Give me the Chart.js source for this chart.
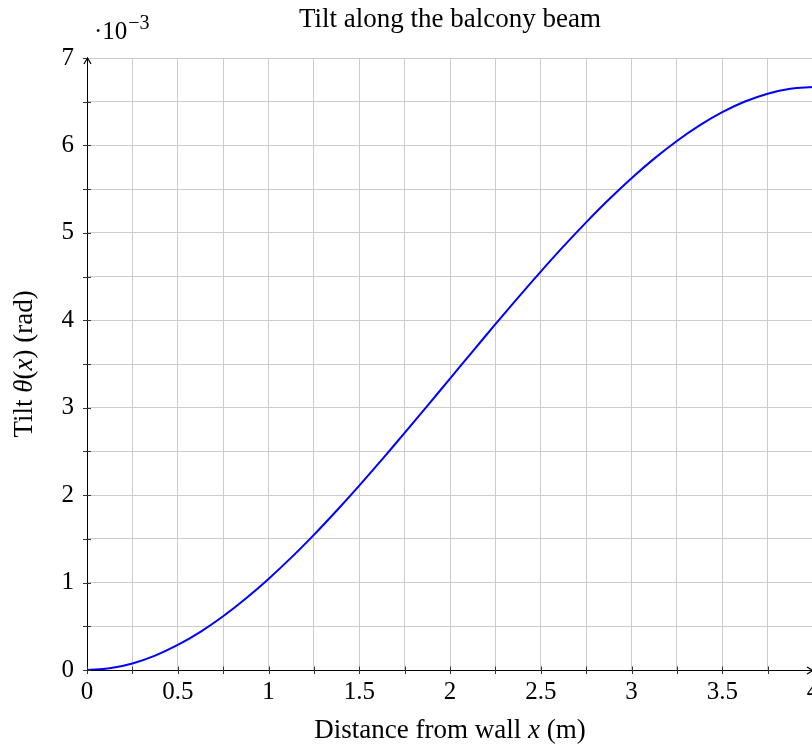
<!DOCTYPE html>
<html>
<head>
<meta charset="utf-8">
<title>Tilt along the balcony beam</title>
<script src="https://cdn.jsdelivr.net/npm/chart.js@4.4.1/dist/chart.umd.min.js"></script>
<style>
  html, body { margin: 0; padding: 0; width: 812px; height: 746px; overflow: hidden; background: #fff; }
  #wrap { width: 840px; height: 746px; }
</style>
</head>
<body>
<div id="wrap"><canvas id="chart" width="840" height="746"></canvas></div>
<script>
// values, tilt in units of 1e-3 rad
const distanceM = [0, 0.125, 0.25, 0.375, 0.5, 0.625, 0.75, 0.875, 1, 1.125, 1.25, 1.375, 1.5, 1.625, 1.75, 1.875,
  2, 2.125, 2.25, 2.375, 2.5, 2.625, 2.75, 2.875, 3, 3.125, 3.25, 3.375, 3.5, 3.625, 3.75, 3.875, 4];
const tiltMilliRad = [0, 0.019, 0.075, 0.165, 0.287, 0.437, 0.615, 0.818, 1.042, 1.285, 1.546, 1.822, 2.109, 2.407, 2.712, 3.021,
  3.333, 3.645, 3.955, 4.260, 4.557, 4.845, 5.120, 5.381, 5.625, 5.849, 6.051, 6.229, 6.380, 6.502, 6.592, 6.648, 6.667];
const xTickLabels = ['0', '0.5', '1', '1.5', '2', '2.5', '3', '3.5', '4'];
const yTickLabels = ['0', '1', '2', '3', '4', '5', '6', '7'];

const FONT = "'Liberation Serif', 'Times New Roman', serif";
const INK = '#000';

// draws the mixed upright / italic pieces of a label, centred on (0,0)
function drawPieces(ctx, pieces, size) {
  let total = 0;
  pieces.forEach(p => {
    ctx.font = (p.italic ? 'italic ' : '') + size + 'px ' + FONT;
    p.w = ctx.measureText(p.text).width;
    total += p.w;
  });
  let x = -total / 2;
  pieces.forEach(p => {
    ctx.font = (p.italic ? 'italic ' : '') + size + 'px ' + FONT;
    ctx.fillText(p.text, x, 0);
    x += p.w;
  });
}

const axisDecor = {
  id: 'axisDecor',
  beforeDatasetsDraw(chart) {
    const ctx = chart.ctx;
    const area = chart.chartArea;
    const xs = chart.scales.x, ys = chart.scales.y;
    ctx.save();
    ctx.strokeStyle = INK;
    ctx.lineWidth = 1;
    // axis lines
    ctx.beginPath();
    ctx.moveTo(area.left + 0.5, area.bottom);
    ctx.lineTo(area.left + 0.5, area.top);
    ctx.moveTo(area.left, area.bottom + 0.5);
    ctx.lineTo(area.right, area.bottom + 0.5);
    ctx.stroke();
    // arrow heads
    ctx.lineWidth = 1.2;
    ctx.beginPath();
    ctx.moveTo(area.left + 0.5 - 3.5, area.top + 6);
    ctx.lineTo(area.left + 0.5, area.top);
    ctx.lineTo(area.left + 0.5 + 3.5, area.top + 6);
    ctx.moveTo(area.right - 6, area.bottom + 0.5 - 3.5);
    ctx.lineTo(area.right, area.bottom + 0.5);
    ctx.lineTo(area.right - 6, area.bottom + 0.5 + 3.5);
    ctx.stroke();
    // tick marks
    ctx.strokeStyle = '#333';
    ctx.lineWidth = 1;
    ctx.beginPath();
    xs.ticks.forEach(t => {
      const px = Math.round(xs.getPixelForValue(t.value)) + 0.5;
      ctx.moveTo(px, area.bottom - 3.5);
      ctx.lineTo(px, area.bottom + 4);
    });
    ys.ticks.forEach(t => {
      if (t.value >= ys.max) return;
      const py = Math.round(ys.getPixelForValue(t.value)) + 0.5;
      ctx.moveTo(area.left - 4, py);
      ctx.lineTo(area.left + 4, py);
    });
    ctx.moveTo(area.left - 4, area.top + 0.5);
    ctx.lineTo(area.left, area.top + 0.5);
    ctx.stroke();
    ctx.restore();
  },
  afterDraw(chart) {
    const ctx = chart.ctx;
    const area = chart.chartArea;
    ctx.save();
    ctx.fillStyle = INK;
    ctx.textBaseline = 'middle';
    ctx.textAlign = 'left';
    // exponent marker
    ctx.font = '25px ' + FONT;
    ctx.fillText('\u00b710', area.left + 7, 32);
    const w = ctx.measureText('\u00b710').width;
    ctx.font = '20px ' + FONT;
    ctx.fillText('\u22123', area.left + 7 + w + 1, 24);
    // x axis title
    ctx.save();
    ctx.translate((area.left + area.right) / 2, 731);
    drawPieces(ctx, [
      { text: 'Distance from wall ' },
      { text: 'x', italic: true },
      { text: ' (m)' }
    ], 27);
    ctx.restore();
    // y axis title
    ctx.save();
    ctx.translate(25, (area.top + area.bottom) / 2);
    ctx.rotate(-Math.PI / 2);
    drawPieces(ctx, [
      { text: 'Tilt ' },
      { text: '\u03b8', italic: true },
      { text: '(' },
      { text: 'x', italic: true },
      { text: ') (rad)' }
    ], 27);
    ctx.restore();
    ctx.restore();
  }
};

new Chart(document.getElementById('chart'), {
  type: 'line',
  data: {
    datasets: [{
      data: distanceM.map((x, i) => ({ x: x, y: tiltMilliRad[i] })),
      borderColor: 'rgb(0,0,255)',
      borderWidth: 2,
      pointRadius: 0,
      fill: false,
      tension: 0.4
    }]
  },
  options: {
    responsive: false,
    animation: false,
    layout: { padding: { left: 0, right: 27, top: 0, bottom: 0 } },
    plugins: {
      legend: { display: false },
      tooltip: { enabled: false },
      title: {
        display: true,
        fullSize: false,
        text: 'Tilt along the balcony beam',
        color: INK,
        font: { family: FONT, size: 27, weight: 'normal', lineHeight: 1.1 },
        padding: { top: 5, bottom: 23.3 }
      }
    },
    scales: {
      x: {
        type: 'linear',
        min: 0,
        max: 4,
        afterFit: s => { s.height = 76; },
        grid: { color: '#cccccc', lineWidth: 1, drawTicks: false },
        border: { display: false },
        ticks: {
          stepSize: 0.25,
          autoSkip: false,
          maxRotation: 0,
          padding: 7,
          color: INK,
          font: { family: FONT, size: 25 },
          callback: v => {
            const i = Math.round(v / 0.5);
            return Math.abs(v - i * 0.5) < 1e-9 ? xTickLabels[i] : '';
          }
        }
      },
      y: {
        min: 0,
        max: 7,
        afterFit: s => { s.width = 87; },
        grid: { color: '#cccccc', lineWidth: 1, drawTicks: false },
        border: { display: false },
        ticks: {
          stepSize: 0.5,
          autoSkip: false,
          padding: 13,
          color: INK,
          font: { family: FONT, size: 25 },
          callback: v => Number.isInteger(v) ? yTickLabels[v] : ''
        }
      }
    }
  },
  plugins: [axisDecor]
});
</script>
</body>
</html>
